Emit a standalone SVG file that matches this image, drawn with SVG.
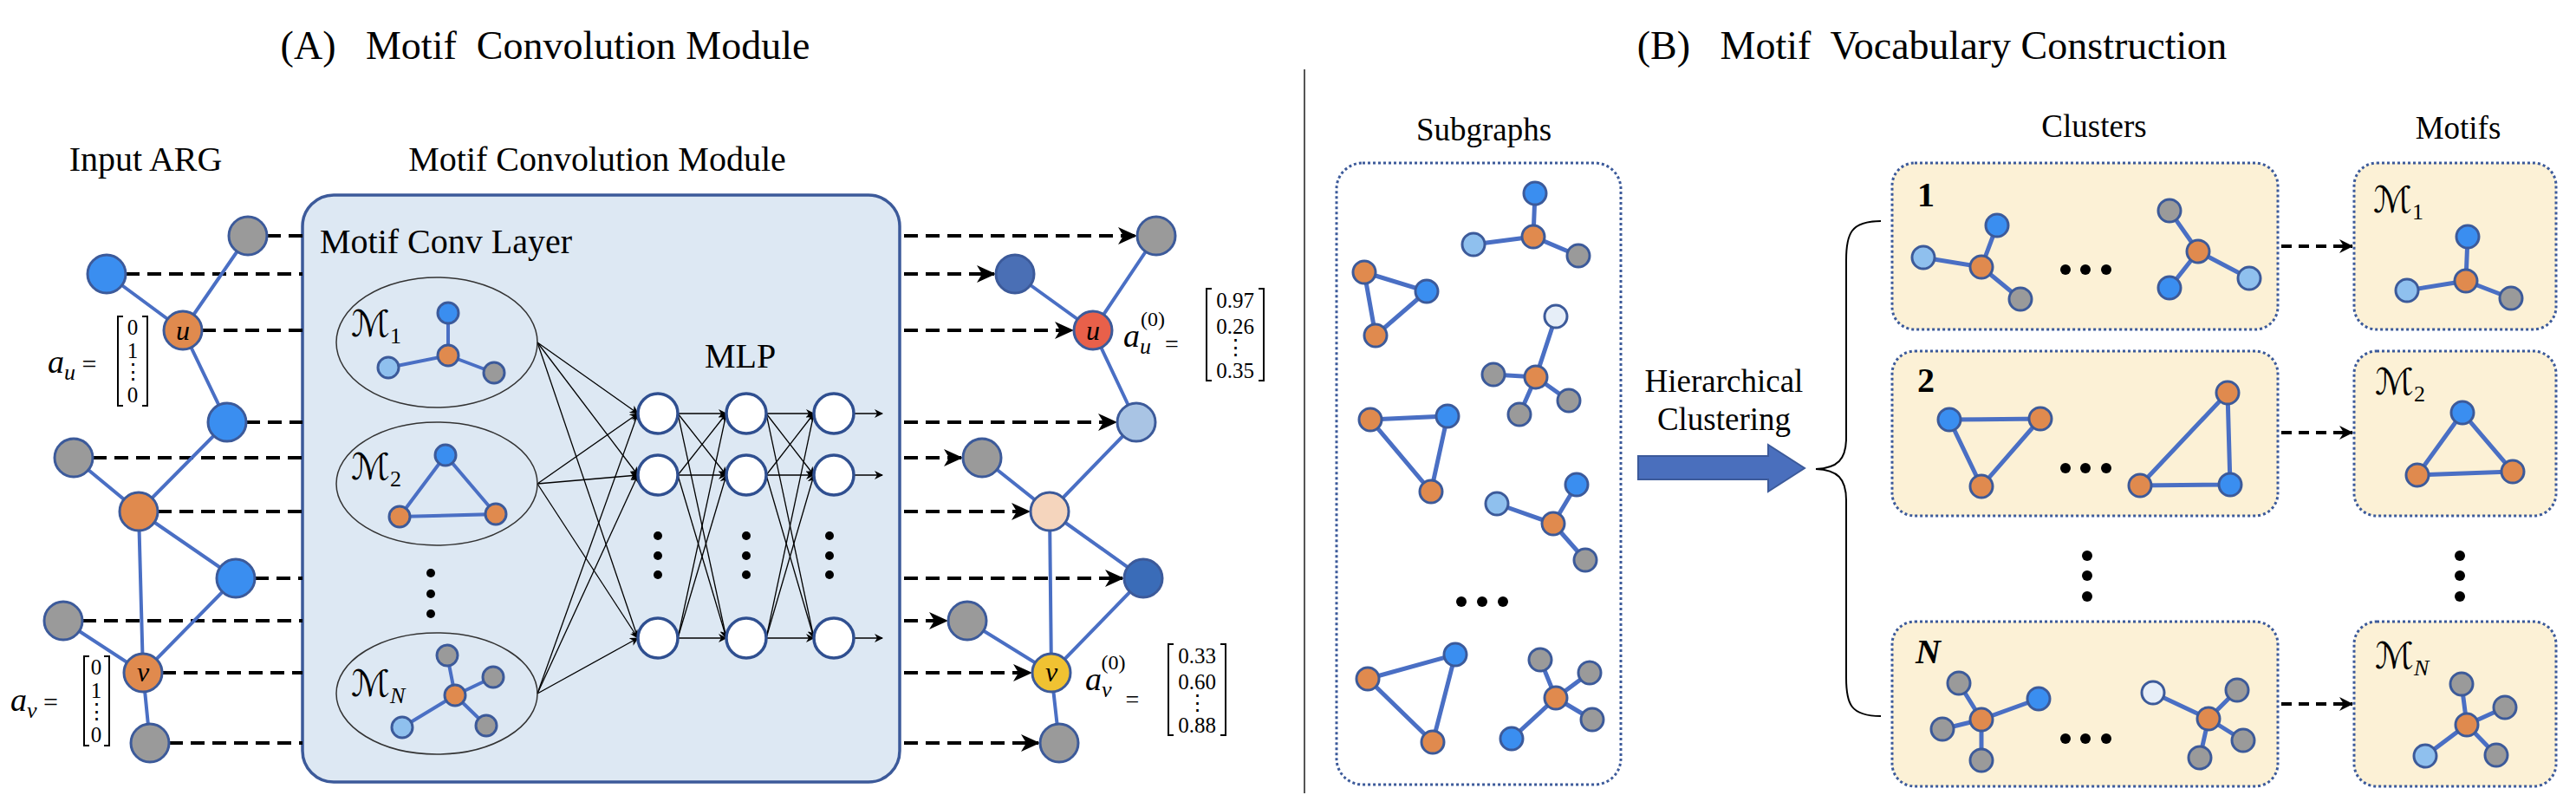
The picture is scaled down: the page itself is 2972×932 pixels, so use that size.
<svg xmlns="http://www.w3.org/2000/svg" width="2972" height="932" viewBox="0 0 2972 932">
<style>
text{font-family:"Liberation Serif","DejaVu Serif",serif;fill:#000}
.t1{font-size:46px}
.t2{font-size:40px}
.t3{font-size:37px}
.m{font-family:"Liberation Serif","DejaVu Serif",serif;font-style:italic}
.sm{font-family:"DejaVu Serif","DejaVu Sans",serif;font-style:normal;font-size:42px}
.e{stroke:#4a6fc4;stroke-width:4;fill:none}
.e2{stroke:#4a6fc4;stroke-width:5;fill:none}
.n{stroke:#3c5a9a;stroke-width:3}
.bl{fill:#3a8ef0}.lb{fill:#8fc0ee}.gr{fill:#9a9a9a}.or{fill:#e08a4e}.pl{fill:#e6eef8}
.da{stroke:#000;stroke-width:4;stroke-dasharray:16 9;fill:none}
.da2{stroke:#000;stroke-width:4;stroke-dasharray:12 8;fill:none}
.th{stroke:#000;stroke-width:1.3;fill:none}
.mlp{fill:#fff;stroke:#2f4f90;stroke-width:3.5}
.cl{fill:#fcf1d6;stroke:#3c5a9a;stroke-width:3;stroke-dasharray:3 3}
.sb{fill:#fff;stroke:#3c5a9a;stroke-width:3;stroke-dasharray:3 3}
.br{stroke:#000;stroke-width:2;fill:none}
.mt{font-size:25px}
</style>
<defs>
<marker id="ah" markerWidth="10" markerHeight="10" refX="9" refY="5" orient="auto" markerUnits="userSpaceOnUse" viewBox="0 0 10 10"><path d="M0,0 L10,5 L0,10 L3,5 Z" fill="#000"/></marker>
<marker id="ab" markerWidth="22" markerHeight="22" refX="20" refY="11" orient="auto" markerUnits="userSpaceOnUse" viewBox="0 0 22 22"><path d="M0,1 L22,11 L0,21 L6,11 Z" fill="#000"/></marker>
<marker id="as" markerWidth="16" markerHeight="16" refX="15" refY="8" orient="auto" markerUnits="userSpaceOnUse" viewBox="0 0 16 16"><path d="M0,0 L16,8 L0,16 L5,8 Z" fill="#000"/></marker>
</defs>

<g id="titles">
<text class="t1" x="629" y="68" text-anchor="middle" xml:space="preserve">(A)   Motif  Convolution Module</text>
<text class="t1" x="2229" y="68" text-anchor="middle" xml:space="preserve">(B)   Motif  Vocabulary Construction</text>
<text class="t2" x="168" y="197" text-anchor="middle">Input ARG</text>
<text class="t2" x="689" y="197" text-anchor="middle">Motif Convolution Module</text>
<line x1="1505" y1="80" x2="1505" y2="915" stroke="#555" stroke-width="2"/>
</g>

<g id="module-box">
<rect x="349" y="225" width="689" height="677" rx="36" fill="#dde8f3" stroke="#3c5a9a" stroke-width="3.5"/>
<text class="t2" x="369" y="292">Motif Conv Layer</text>
<text class="t2" x="854" y="424" text-anchor="middle">MLP</text>
</g>

<g id="connectors">
<path class="da" d="M308,272H349M145,316H349M233,381H349M284,487H349M107,528H349M182,590H349M294,667H349M95,716H349M187,776H349M195,857H349"/>
<path class="da" marker-end="url(#ab)" d="M1043,272H1310"/>
<path class="da" marker-end="url(#ab)" d="M1043,316H1147"/>
<path class="da" marker-end="url(#ab)" d="M1043,381H1237"/>
<path class="da" marker-end="url(#ab)" d="M1043,487H1287"/>
<path class="da" marker-end="url(#ab)" d="M1043,528H1109"/>
<path class="da" marker-end="url(#ab)" d="M1043,590H1187"/>
<path class="da" marker-end="url(#ab)" d="M1043,667H1295"/>
<path class="da" marker-end="url(#ab)" d="M1043,716H1092"/>
<path class="da" marker-end="url(#ab)" d="M1043,776H1189"/>
<path class="da" marker-end="url(#ab)" d="M1043,857H1198"/>
<g class="th" marker-end="url(#ah)">
<path d="M620,395L736,477"/><path d="M620,395L736,548"/><path d="M620,395L736,736"/>
<path d="M620,558L736,477"/><path d="M620,558L736,548"/><path d="M620,558L736,736"/>
<path d="M620,800L736,477"/><path d="M620,800L736,548"/><path d="M620,800L736,736"/>
<path d="M782,477L838,477"/><path d="M782,477L838,548"/><path d="M782,477L838,736"/>
<path d="M782,548L838,477"/><path d="M782,548L838,548"/><path d="M782,548L838,736"/>
<path d="M782,736L838,477"/><path d="M782,736L838,548"/><path d="M782,736L838,736"/>
<path d="M884,477L939,477"/><path d="M884,477L939,548"/><path d="M884,477L939,736"/>
<path d="M884,548L939,477"/><path d="M884,548L939,548"/><path d="M884,548L939,736"/>
<path d="M884,736L939,477"/><path d="M884,736L939,548"/><path d="M884,736L939,736"/>
<path d="M985,477L1018,477"/><path d="M985,548L1018,548"/><path d="M985,736L1018,736"/>
</g>
<path class="da2" marker-end="url(#as)" d="M2632,284H2714"/>
<path class="da2" marker-end="url(#as)" d="M2632,499H2714"/>
<path class="da2" marker-end="url(#as)" d="M2632,812H2714"/>
<path d="M1890,526H2040V513L2082,540L2040,567V553H1890Z" fill="#4a6fbd" stroke="#3c5a9a" stroke-width="2"/>
<path class="br" stroke-width="3" d="M2170,255C2135,255 2130,270 2130,300V505C2130,530 2120,540 2095,541C2120,542 2130,552 2130,577V782C2130,812 2135,826 2170,826"/>
</g>

<g id="left-graph">
<path class="e" d="M123,316L211,381L286,272M211,381L262,487L160,590L85,528M160,590L272,667L165,776L73,716M160,590L165,776L173,857"/>
<g id="lg-n1"><circle class="n gr" cx="286" cy="272" r="22"/></g>
<g id="lg-n2"><circle class="n bl" cx="123" cy="316" r="22"/></g>
<g id="lg-u"><circle class="n or" cx="211" cy="381" r="22"/><text class="m" x="211" y="392" font-size="32" text-anchor="middle">u</text></g>
<g id="lg-n4"><circle class="n bl" cx="262" cy="487" r="22"/></g>
<g id="lg-n5"><circle class="n gr" cx="85" cy="528" r="22"/></g>
<g id="lg-n6"><circle class="n or" cx="160" cy="590" r="22"/></g>
<g id="lg-n7"><circle class="n bl" cx="272" cy="667" r="22"/></g>
<g id="lg-n8"><circle class="n gr" cx="73" cy="716" r="22"/></g>
<g id="lg-v"><circle class="n or" cx="165" cy="776" r="22"/><text class="m" x="165" y="786" font-size="32" text-anchor="middle">v</text></g>
<g id="lg-n10"><circle class="n gr" cx="173" cy="857" r="22"/></g>
</g>

<g id="right-graph">
<path class="e" d="M1171,316L1261,381L1334,272M1261,381L1311,487L1211,590L1133,528M1211,590L1319,667L1213,776L1116,716M1211,590L1213,776L1222,857"/>
<g id="rg-n1"><circle class="n gr" cx="1334" cy="272" r="22"/></g>
<g id="rg-n2"><circle class="n" fill="#4a6fb5" cx="1171" cy="316" r="22"/></g>
<g id="rg-u"><circle class="n" fill="#e8604a" cx="1261" cy="381" r="22"/><text class="m" x="1261" y="392" font-size="32" text-anchor="middle">u</text></g>
<g id="rg-n4"><circle class="n" fill="#a9c4e4" cx="1311" cy="487" r="22"/></g>
<g id="rg-n5"><circle class="n gr" cx="1133" cy="528" r="22"/></g>
<g id="rg-n6"><circle class="n" fill="#f5d5bd" cx="1211" cy="590" r="22"/></g>
<g id="rg-n7"><circle class="n" fill="#3a6cb8" cx="1319" cy="667" r="22"/></g>
<g id="rg-n8"><circle class="n gr" cx="1116" cy="716" r="22"/></g>
<g id="rg-v"><circle class="n" fill="#f0c232" cx="1213" cy="776" r="22"/><text class="m" x="1213" y="786" font-size="32" text-anchor="middle">v</text></g>
<g id="rg-n10"><circle class="n gr" cx="1222" cy="857" r="22"/></g>
</g>

<g id="vectors">
<text class="m" x="55" y="430" font-size="38">a<tspan font-size="26" dy="8">u</tspan><tspan font-style="normal" dy="-8" font-size="30"> =</tspan></text>
<path class="br" d="M142,365H136V468H142M164,365H170V468H164"/>
<text class="mt" x="153" y="386" text-anchor="middle">0</text><text class="mt" x="153" y="413" text-anchor="middle">1</text><text class="mt" x="153" y="437" text-anchor="middle">⋮</text><text class="mt" x="153" y="464" text-anchor="middle">0</text>
<text class="m" x="12" y="820" font-size="38">a<tspan font-size="26" dy="8">v</tspan><tspan font-style="normal" dy="-8" font-size="30"> =</tspan></text>
<path class="br" d="M103,757H97V860H103M120,757H126V860H120"/>
<text class="mt" x="111" y="778" text-anchor="middle">0</text><text class="mt" x="111" y="805" text-anchor="middle">1</text><text class="mt" x="111" y="829" text-anchor="middle">⋮</text><text class="mt" x="111" y="856" text-anchor="middle">0</text>
<text class="m" x="1296" y="400" font-size="38">a<tspan font-size="26" dy="8">u</tspan><tspan font-style="normal" font-size="24" dx="-12" dy="-32">(0)</tspan><tspan font-style="normal" dy="30" font-size="28">=</tspan></text>
<path class="br" d="M1398,333H1392V439H1398M1452,333H1458V439H1452"/>
<text class="mt" x="1425" y="355" text-anchor="middle">0.97</text><text class="mt" x="1425" y="385" text-anchor="middle">0.26</text><text class="mt" x="1425" y="409" text-anchor="middle">⋮</text><text class="mt" x="1425" y="436" text-anchor="middle">0.35</text>
<text class="m" x="1252" y="796" font-size="38">a<tspan font-size="26" dy="8">v</tspan><tspan font-style="normal" font-size="24" dx="-12" dy="-32">(0)</tspan><tspan font-style="normal" dy="44" font-size="28">=</tspan></text>
<path class="br" d="M1354,743H1348V848H1354M1408,743H1414V848H1408"/>
<text class="mt" x="1381" y="765" text-anchor="middle">0.33</text><text class="mt" x="1381" y="795" text-anchor="middle">0.60</text><text class="mt" x="1381" y="819" text-anchor="middle">⋮</text><text class="mt" x="1381" y="845" text-anchor="middle">0.88</text>
</g>

<g id="motif-1">
<ellipse cx="504" cy="395" rx="116" ry="75" fill="none" stroke="#333" stroke-width="1.5"/>
<text class="sm" x="405" y="388">ℳ<tspan font-family="Liberation Serif" font-size="26" dy="8">1</tspan></text>
<path class="e" d="M517,361L517,410L448,424M517,410L570,430"/>
<circle class="n bl" cx="517" cy="361" r="12"/><circle class="n or" cx="517" cy="410" r="12"/><circle class="n lb" cx="448" cy="424" r="12"/><circle class="n gr" cx="570" cy="430" r="12"/>
</g>
<g id="motif-2">
<ellipse cx="504" cy="558" rx="116" ry="71" fill="none" stroke="#333" stroke-width="1.5"/>
<text class="sm" x="405" y="553">ℳ<tspan font-family="Liberation Serif" font-size="26" dy="8">2</tspan></text>
<path class="e" d="M514,525L461,596L572,593Z"/>
<circle class="n bl" cx="514" cy="525" r="12"/><circle class="n or" cx="461" cy="596" r="12"/><circle class="n or" cx="572" cy="593" r="12"/>
</g>
<g id="motif-dots"><circle cx="497" cy="661" r="5"/><circle cx="497" cy="685" r="5"/><circle cx="497" cy="708" r="5"/></g>
<g id="motif-N">
<ellipse cx="504" cy="800" rx="116" ry="70" fill="none" stroke="#333" stroke-width="1.5"/>
<text class="sm" x="405" y="803">ℳ<tspan font-family="Liberation Serif" font-style="italic" font-size="26" dy="8">N</tspan></text>
<path class="e" d="M525,802L516,756M525,802L569,781M525,802L464,839M525,802L561,837"/>
<circle class="n gr" cx="516" cy="756" r="12"/><circle class="n gr" cx="569" cy="781" r="12"/><circle class="n lb" cx="464" cy="839" r="12"/><circle class="n gr" cx="561" cy="837" r="12"/><circle class="n or" cx="525" cy="802" r="12"/>
</g>

<g id="mlp">
<circle class="mlp" cx="759" cy="477" r="23"/><circle class="mlp" cx="861" cy="477" r="23"/><circle class="mlp" cx="962" cy="477" r="23"/>
<circle class="mlp" cx="759" cy="548" r="23"/><circle class="mlp" cx="861" cy="548" r="23"/><circle class="mlp" cx="962" cy="548" r="23"/>
<circle class="mlp" cx="759" cy="736" r="23"/><circle class="mlp" cx="861" cy="736" r="23"/><circle class="mlp" cx="962" cy="736" r="23"/>
<g><circle cx="759" cy="618" r="5"/><circle cx="759" cy="641" r="5"/><circle cx="759" cy="663" r="5"/><circle cx="861" cy="618" r="5"/><circle cx="861" cy="641" r="5"/><circle cx="861" cy="663" r="5"/><circle cx="957" cy="618" r="5"/><circle cx="957" cy="641" r="5"/><circle cx="957" cy="663" r="5"/></g>
</g>

<g id="panel-b-labels">
<text class="t3" x="1712" y="162" text-anchor="middle">Subgraphs</text>
<text class="t3" x="2416" y="158" text-anchor="middle">Clusters</text>
<text class="t3" x="2836" y="160" text-anchor="middle">Motifs</text>
<text class="t3" x="1989" y="452" text-anchor="middle">Hierarchical</text>
<text class="t3" x="1989" y="496" text-anchor="middle">Clustering</text>
</g>

<g id="subgraphs">
<rect class="sb" x="1542" y="188" width="328" height="717" rx="30"/>
<path class="e2" d="M1771,223L1769,273L1700,282M1769,273L1821,295"/>
<path class="e2" d="M1574,314L1646,336L1587,387Z"/>
<path class="e2" d="M1795,365L1772,435L1723,432M1772,435L1753,478M1772,435L1810,462"/>
<path class="e2" d="M1581,484L1670,480L1651,567Z"/>
<path class="e2" d="M1727,581L1792,604L1819,559M1792,604L1829,646"/>
<path class="e2" d="M1578,783L1679,755L1653,856Z"/>
<path class="e2" d="M1795,805L1777,761M1795,805L1834,776M1795,805L1837,830M1795,805L1744,852"/>
<g>
<circle class="n bl" cx="1771" cy="223" r="13"/><circle class="n or" cx="1769" cy="273" r="13"/><circle class="n lb" cx="1700" cy="282" r="13"/><circle class="n gr" cx="1821" cy="295" r="13"/>
<circle class="n or" cx="1574" cy="314" r="13"/><circle class="n bl" cx="1646" cy="336" r="13"/><circle class="n or" cx="1587" cy="387" r="13"/>
<circle class="n pl" cx="1795" cy="365" r="13"/><circle class="n or" cx="1772" cy="435" r="13"/><circle class="n gr" cx="1723" cy="432" r="13"/><circle class="n gr" cx="1753" cy="478" r="13"/><circle class="n gr" cx="1810" cy="462" r="13"/>
<circle class="n or" cx="1581" cy="484" r="13"/><circle class="n bl" cx="1670" cy="480" r="13"/><circle class="n or" cx="1651" cy="567" r="13"/>
<circle class="n lb" cx="1727" cy="581" r="13"/><circle class="n bl" cx="1819" cy="559" r="13"/><circle class="n or" cx="1792" cy="604" r="13"/><circle class="n gr" cx="1829" cy="646" r="13"/>
<circle class="n or" cx="1578" cy="783" r="13"/><circle class="n bl" cx="1679" cy="755" r="13"/><circle class="n or" cx="1653" cy="856" r="13"/>
<circle class="n or" cx="1795" cy="805" r="13"/><circle class="n gr" cx="1777" cy="761" r="13"/><circle class="n gr" cx="1834" cy="776" r="13"/><circle class="n gr" cx="1837" cy="830" r="13"/><circle class="n bl" cx="1744" cy="852" r="13"/>
<circle cx="1686" cy="694" r="6"/><circle cx="1710" cy="694" r="6"/><circle cx="1734" cy="694" r="6"/>
</g>
</g>

<g id="cluster-1">
<rect class="cl" x="2183" y="188" width="445" height="192" rx="26"/>
<text class="t2" x="2212" y="238" font-weight="bold">1</text>
<path class="e2" d="M2304,260L2286,308L2219,297M2286,308L2331,345M2503,243L2536,290L2595,321M2536,290L2503,332"/>
<circle class="n bl" cx="2304" cy="260" r="13"/><circle class="n or" cx="2286" cy="308" r="13"/><circle class="n lb" cx="2219" cy="297" r="13"/><circle class="n gr" cx="2331" cy="345" r="13"/>
<circle class="n gr" cx="2503" cy="243" r="13"/><circle class="n or" cx="2536" cy="290" r="13"/><circle class="n bl" cx="2503" cy="332" r="13"/><circle class="n lb" cx="2595" cy="321" r="13"/>
<circle cx="2383" cy="311" r="6"/><circle cx="2406" cy="311" r="6"/><circle cx="2430" cy="311" r="6"/>
</g>
<g id="cluster-2">
<rect class="cl" x="2183" y="405" width="445" height="190" rx="26"/>
<text class="t2" x="2212" y="452" font-weight="bold">2</text>
<path class="e2" d="M2249,484L2354,483L2286,561ZM2570,453L2573,559L2469,560Z"/>
<circle class="n bl" cx="2249" cy="484" r="13"/><circle class="n or" cx="2354" cy="483" r="13"/><circle class="n or" cx="2286" cy="561" r="13"/>
<circle class="n or" cx="2570" cy="453" r="13"/><circle class="n or" cx="2469" cy="560" r="13"/><circle class="n bl" cx="2573" cy="559" r="13"/>
<circle cx="2383" cy="540" r="6"/><circle cx="2406" cy="540" r="6"/><circle cx="2430" cy="540" r="6"/>
</g>
<g id="cluster-dots"><circle cx="2408" cy="641" r="6"/><circle cx="2408" cy="664" r="6"/><circle cx="2408" cy="688" r="6"/><circle cx="2838" cy="641" r="6"/><circle cx="2838" cy="664" r="6"/><circle cx="2838" cy="688" r="6"/></g>
<g id="cluster-N">
<rect class="cl" x="2183" y="717" width="445" height="190" rx="26"/>
<text class="t2" x="2210" y="765" font-weight="bold" font-style="italic">N</text>
<path class="e2" d="M2286,830L2260,788M2286,830L2352,806M2286,830L2241,841M2286,830L2286,877M2548,829L2484,799M2548,829L2581,796M2548,829L2588,854M2548,829L2538,874"/>
<circle class="n gr" cx="2260" cy="788" r="13"/><circle class="n bl" cx="2352" cy="806" r="13"/><circle class="n gr" cx="2241" cy="841" r="13"/><circle class="n gr" cx="2286" cy="877" r="13"/><circle class="n or" cx="2286" cy="830" r="13"/>
<circle class="n pl" cx="2484" cy="799" r="13"/><circle class="n gr" cx="2581" cy="796" r="13"/><circle class="n gr" cx="2588" cy="854" r="13"/><circle class="n gr" cx="2538" cy="874" r="13"/><circle class="n or" cx="2548" cy="829" r="13"/>
<circle cx="2383" cy="852" r="6"/><circle cx="2406" cy="852" r="6"/><circle cx="2430" cy="852" r="6"/>
</g>

<g id="vocab-motif-1">
<rect class="cl" x="2716" y="188" width="233" height="192" rx="26"/>
<text class="sm" x="2738" y="245">ℳ<tspan font-family="Liberation Serif" font-size="26" dy="8">1</tspan></text>
<path class="e2" d="M2847,273L2845,324L2777,335M2845,324L2897,344"/>
<circle class="n bl" cx="2847" cy="273" r="13"/><circle class="n or" cx="2845" cy="324" r="13"/><circle class="n lb" cx="2777" cy="335" r="13"/><circle class="n gr" cx="2897" cy="344" r="13"/>
</g>
<g id="vocab-motif-2">
<rect class="cl" x="2716" y="405" width="233" height="190" rx="26"/>
<text class="sm" x="2740" y="455">ℳ<tspan font-family="Liberation Serif" font-size="26" dy="8">2</tspan></text>
<path class="e2" d="M2841,476L2789,548L2899,544Z"/>
<circle class="n bl" cx="2841" cy="476" r="13"/><circle class="n or" cx="2789" cy="548" r="13"/><circle class="n or" cx="2899" cy="544" r="13"/>
</g>
<g id="vocab-motif-N">
<rect class="cl" x="2716" y="717" width="233" height="190" rx="26"/>
<text class="sm" x="2740" y="771">ℳ<tspan font-family="Liberation Serif" font-style="italic" font-size="26" dy="8">N</tspan></text>
<path class="e2" d="M2846,836L2840,789M2846,836L2890,816M2846,836L2798,872M2846,836L2880,871"/>
<circle class="n gr" cx="2840" cy="789" r="13"/><circle class="n gr" cx="2890" cy="816" r="13"/><circle class="n lb" cx="2798" cy="872" r="13"/><circle class="n gr" cx="2880" cy="871" r="13"/><circle class="n or" cx="2846" cy="836" r="13"/>
</g>
</svg>
